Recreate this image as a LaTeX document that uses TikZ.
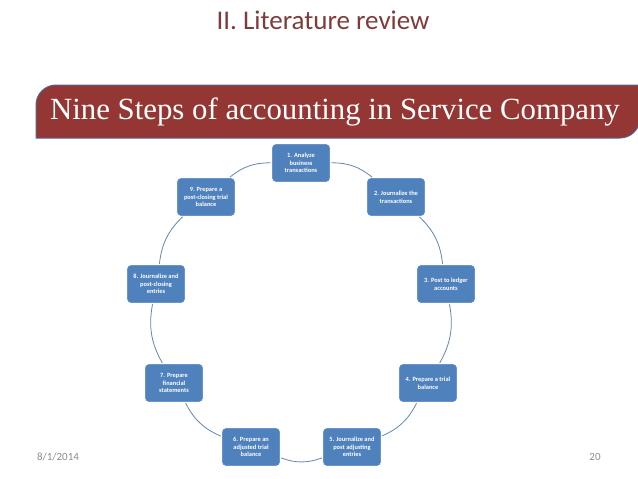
\documentclass[tikz,border=0pt]{standalone}
\usepackage{fontspec}
\setmainfont{Carlito}
\newfontfamily\bannerfont{Liberation Serif}
\usepackage{tikz}
\usetikzlibrary{arrows.meta,positioning,calc}
\definecolor{slRed}{HTML}{943634}
\definecolor{slTitle}{HTML}{7F3A3A}
\definecolor{slEdge}{HTML}{56648A}
\definecolor{slBlue}{HTML}{4F81BD}
\definecolor{slLink}{HTML}{5F86B6}
\definecolor{slGray}{HTML}{8C8C8C}

\begin{document}
\begin{tikzpicture}[
  x=1pt, y=-1pt,
  font=\fontsize{6.3}{7.6}\selectfont,
  stepbox/.style={draw=slBlue!85!white, fill=slBlue, rounded corners=3.5pt, align=center,
    text=white, font=\fontsize{6.4}{7.6}\selectfont\bfseries, inner sep=1pt,
    minimum width=57pt, minimum height=37pt, line width=0.6pt},
  link/.style={draw=slLink, line width=0.8pt, shorten <=1.5pt, shorten >=1.5pt},
  banner/.style={fill=slRed, draw=slEdge, line width=1pt},
]
\useasboundingbox (0,0) rectangle (638,479);
% title and banner
\node[text=slTitle, font=\fontsize{27}{30}\selectfont] (title) at (323,20) {II. Literature review};
\filldraw[banner] (36,138) -- (36,105) arc[start angle=180, end angle=270, radius=20]
  -- (640,85) -- (640,118) arc[start angle=0, end angle=90, radius=20] -- cycle;
\node[text=white, font=\bannerfont\fontsize{30.8}{33}\selectfont] (head) at (335,112) {Nine Steps of accounting in Service Company};
% the nine steps round the circle
\node[stepbox] (s1) at (301,163) {1. Analyze\\business\\transactions};
\node[stepbox] (s2) at (396,197) {2. Journalize the\\transactions};
\node[stepbox] (s3) at (446,284) {3. Post to ledger\\accounts};
\node[stepbox] (s4) at (428,383) {4. Prepare a trial\\balance};
\node[stepbox] (s5) at (352,447) {5. Journalize and\\post adjusting\\entries};
\node[stepbox] (s6) at (251,447) {6. Prepare an\\adjusted trial\\balance};
\node[stepbox] (s7) at (174,383) {7. Prepare\\financial\\statements};
\node[stepbox] (s8) at (156,284) {8. Journalize and\\post-closing\\entries};
\node[stepbox] (s9) at (206,197) {9. Prepare a\\post-closing trial\\balance};
\foreach \a/\b in {s1/s2,s2/s3,s3/s4,s4/s5,s5/s6,s6/s7,s7/s8,s8/s9,s9/s1}
  \draw[link] (\a) to[bend left=20] (\b);
% footer
\node[text=slGray, font=\fontsize{11}{13}\selectfont] (date) at (58,457) {8/1/2014};
\node[text=slGray, font=\fontsize{11}{13}\selectfont] (page) at (595,457) {20};
\end{tikzpicture}
\end{document}
